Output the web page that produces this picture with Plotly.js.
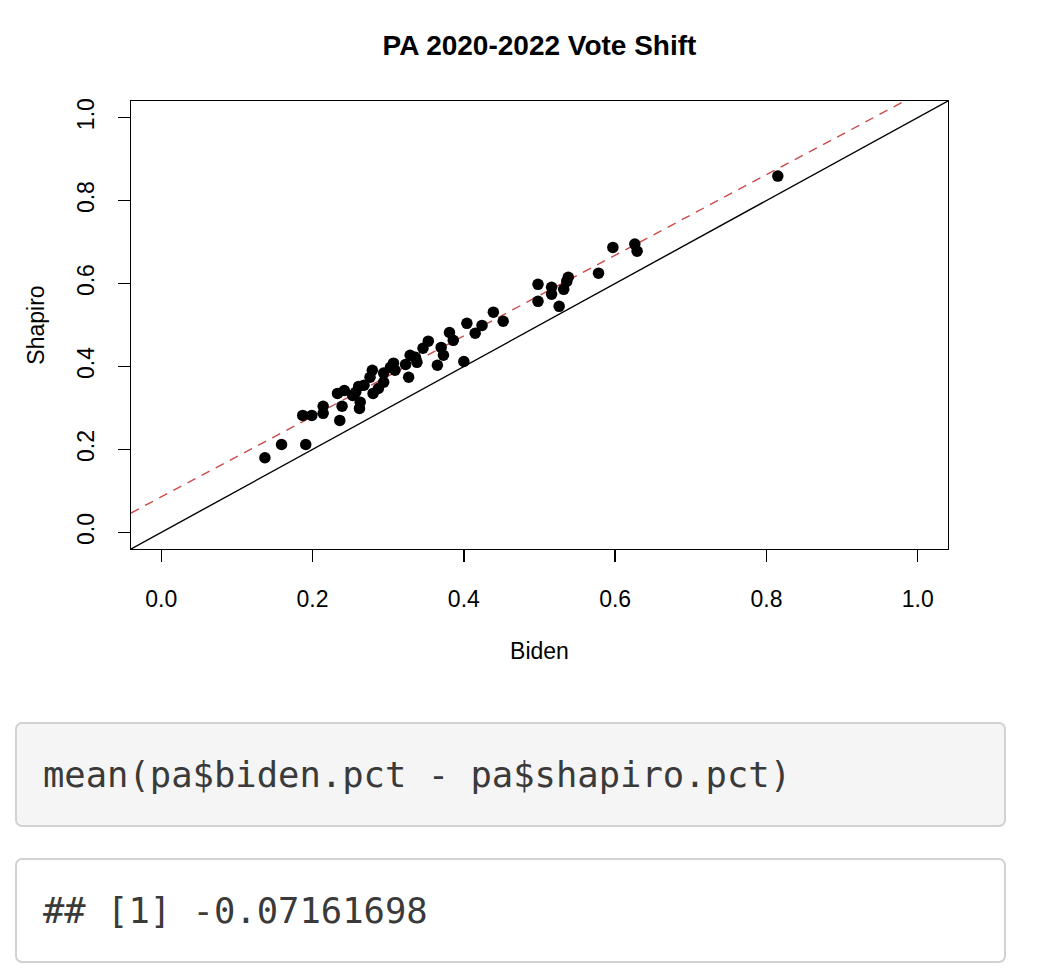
<!DOCTYPE html>
<html>
<head>
<meta charset="utf-8">
<script src="https://cdn.plot.ly/plotly-3.0.1.min.js"></script>
<style>
  body { margin: 0; background: #fff; width: 1061px; height: 979px; position: relative; overflow: hidden; }
  #chart { position: absolute; left: 0; top: 0; width: 1061px; height: 690px; }
  .code {
    position: absolute; left: 15px; width: 961px; height: 101px;
    border: 2px solid #d2d2d2; border-radius: 7px;
    font-family: "DejaVu Sans Mono", monospace; font-size: 35.5px; color: #3a3a3a;
    display: flex; align-items: center; padding-left: 26px; box-sizing: content-box;
  }
  #src { top: 722px; background: #f5f5f5; }
  #out { top: 858px; background: #fff; }
</style>
</head>
<body>
<div id="chart"></div>
<div class="code" id="src">mean(pa$biden.pct - pa$shapiro.pct)</div>
<div class="code" id="out">## [1] -0.07161698</div>
<script>
// county vote shares
var biden = [
  0.137, 0.159, 0.191, 0.187, 0.199, 0.214, 0.214, 0.236, 0.239, 0.233,
  0.242, 0.257, 0.263, 0.262, 0.268, 0.276, 0.279, 0.280, 0.294, 0.307,
  0.309, 0.323, 0.327, 0.329, 0.338, 0.346, 0.353, 0.365, 0.370, 0.373,
  0.381, 0.386, 0.400, 0.404, 0.415, 0.424, 0.439, 0.452, 0.498, 0.498,
  0.516, 0.516, 0.526, 0.532, 0.536, 0.538, 0.578, 0.597, 0.626, 0.629,
  0.815, 0.253, 0.261, 0.287, 0.294, 0.303, 0.336
];
var shapiro = [
  0.180, 0.212, 0.212, 0.282, 0.282, 0.304, 0.287, 0.270, 0.304, 0.335,
  0.342, 0.338, 0.314, 0.299, 0.355, 0.374, 0.391, 0.335, 0.384, 0.408,
  0.391, 0.405, 0.374, 0.427, 0.410, 0.444, 0.461, 0.403, 0.446, 0.427,
  0.482, 0.463, 0.412, 0.504, 0.480, 0.499, 0.531, 0.509, 0.598, 0.557,
  0.591, 0.574, 0.545, 0.586, 0.605, 0.615, 0.625, 0.687, 0.695, 0.678,
  0.859, 0.330, 0.352, 0.347, 0.362, 0.398, 0.422
];

// fitted line (red dashed) and y = x reference
var fitIntercept = 0.0856;
var fitSlope = 0.971;
var axisRange = [-0.04, 1.04];
var tickVals = [0, 0.2, 0.4, 0.6, 0.8, 1.0];
var tickText = ['0.0', '0.2', '0.4', '0.6', '0.8', '1.0'];

var lineX = [axisRange[0], axisRange[1]];

var traces = [
  {
    x: lineX, y: lineX, mode: 'lines', type: 'scatter',
    line: { color: '#000', width: 1.4 }, hoverinfo: 'skip'
  },
  {
    x: lineX, y: lineX.map(v => fitIntercept + fitSlope * v),
    mode: 'lines', type: 'scatter',
    line: { color: '#cc4a4a', width: 1.4, dash: '9px,7px' }, hoverinfo: 'skip'
  },
  {
    x: biden, y: shapiro, mode: 'markers', type: 'scatter',
    marker: { color: '#000', size: 11.5 }
  }
];

var font = { family: '"Liberation Sans", Arial, sans-serif', size: 23, color: '#000' };

var axisBase = {
  range: axisRange, showgrid: false, zeroline: false,
  showline: true, mirror: true, linecolor: '#000', linewidth: 1.4,
  ticks: 'outside', ticklen: 12, tickwidth: 1.4, tickcolor: '#000',
  tickmode: 'array', tickvals: tickVals, ticktext: tickText,
  tickfont: font, automargin: false
};

var layout = {
  width: 1061, height: 690,
  margin: { l: 131, r: 113, t: 101, b: 141 },
  paper_bgcolor: '#fff', plot_bgcolor: '#fff',
  showlegend: false,
  font: font,
  title: {
    text: '<b>PA 2020-2022 Vote Shift</b>',
    font: { family: '"Liberation Sans", Arial, sans-serif', size: 28, color: '#000' },
    x: 0.5, xref: 'paper', y: 1 - 45 / 690, yref: 'container', yanchor: 'middle'
  },
  xaxis: Object.assign({}, axisBase, {
    ticklabelstandoff: 17,
    title: { text: 'Biden', font: font, standoff: 32 }
  }),
  yaxis: Object.assign({}, axisBase, {
    tickangle: -90, ticklabelstandoff: 14,
    title: { text: 'Shapiro', font: font, standoff: 22 }
  })
};

Plotly.newPlot('chart', traces, layout, { displayModeBar: false, staticPlot: true });
</script>
</body>
</html>
